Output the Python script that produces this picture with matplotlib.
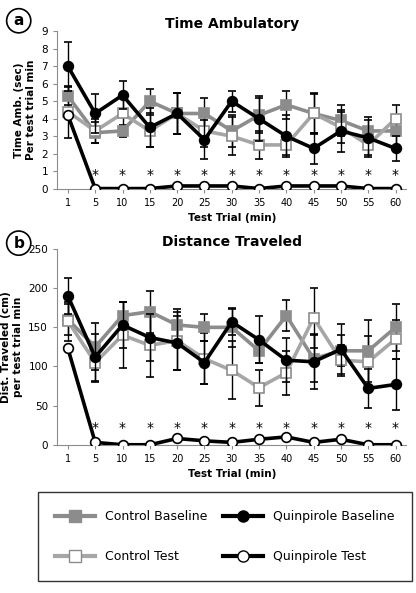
import matplotlib.pyplot as plt
import numpy as np
from matplotlib.lines import Line2D

trials = ['1', '5', '10', '15', '20', '25', '30', '35', '40', '45', '50', '55', '60']

# Time ambulatory
ta_cb = [5.3, 3.2, 3.3, 5.0, 4.3, 4.3, 3.3, 4.2, 4.8, 4.3, 3.9, 3.3, 3.3]
ta_cb_err = [0.5, 0.6, 0.35, 0.7, 1.2, 0.9, 0.9, 1.0, 0.8, 1.2, 0.9, 0.8, 0.9]
ta_ct = [4.4, 3.3, 4.3, 3.3, 4.3, 3.3, 3.0, 2.5, 2.5, 4.3, 3.5, 2.5, 4.0]
ta_ct_err = [1.5, 0.7, 0.9, 0.9, 1.2, 0.9, 1.1, 0.8, 0.6, 1.1, 0.9, 0.7, 0.8]
ta_qb = [7.0, 4.3, 5.35, 3.5, 4.3, 2.8, 5.0, 4.0, 3.0, 2.3, 3.3, 2.9, 2.3]
ta_qb_err = [1.4, 1.1, 0.8, 1.1, 1.2, 1.1, 0.6, 1.3, 1.2, 0.9, 1.2, 1.0, 0.7]
ta_qt = [4.2, 0, 0, 0, 0.15, 0.15, 0.15, 0, 0.15, 0.15, 0.15, 0, 0]

# Distance traveled
dt_cb = [160, 125, 165, 170, 153, 150, 150, 120, 165, 110, 120, 120, 150]
dt_cb_err = [20, 30, 18, 27, 20, 17, 25, 15, 20, 30, 20, 40, 30]
dt_ct = [158, 105, 140, 127, 133, 110, 95, 73, 92, 162, 108, 106, 135]
dt_ct_err = [25, 25, 42, 40, 37, 33, 37, 23, 28, 38, 20, 33, 25]
dt_qb = [190, 112, 153, 137, 130, 105, 157, 134, 108, 106, 122, 72, 77]
dt_qb_err = [23, 30, 30, 30, 35, 27, 17, 30, 28, 35, 32, 25, 33]
dt_qt = [123, 3, 0, 0, 8, 5, 3, 7, 10, 3, 7, 0, 0]

x = np.arange(len(trials))
gray = '#8c8c8c'

fig = plt.figure(figsize=(4.16, 5.93), dpi=100)
ax1 = fig.add_axes([0.137, 0.682, 0.84, 0.265])
ax2 = fig.add_axes([0.137, 0.25, 0.84, 0.33])


def draw(ax, cb, cbe, ct, cte, qb, qbe, qt, ylim, step, title, ylabel, star_y):
    kw = dict(capsize=3, elinewidth=1, ecolor='black', capthick=1, markersize=7, linewidth=2.6, markeredgewidth=1.2)
    ax.errorbar(x, cb, yerr=cbe, color=gray, marker='s', mfc=gray, mec=gray, zorder=2, **kw)
    ax.errorbar(x, qb, yerr=qbe, color='black', marker='o', mfc='black', mec='black', zorder=3, **kw)
    ax.errorbar(x, ct, yerr=cte, color='#a6a6a6', marker='s', mfc='white', mec=gray, zorder=2, **kw)
    ax.plot(x, qt, color='black', marker='o', mfc='white', mec='black', lw=2.6, ms=7, mew=1.2, zorder=4)
    for i in range(1, len(x)):
        ax.text(x[i], star_y, '*', ha='center', va='center', fontsize=10)
    ax.set_xlim(-0.4, len(x) - 0.6)
    ax.set_ylim(*ylim)
    ax.set_yticks(np.arange(ylim[0], ylim[1] + step / 2, step))
    ax.set_xticks(x)
    ax.set_xticklabels(trials, fontsize=7)
    ax.tick_params(axis='y', labelsize=7.5, length=3, color=gray)
    ax.tick_params(axis='x', length=3, color=gray)
    for s in ['top', 'right']:
        ax.spines[s].set_visible(False)
    for s in ['left', 'bottom']:
        ax.spines[s].set_color(gray)
    ax.set_title(title, fontsize=10, fontweight='bold', pad=-12)
    ax.set_xlabel('Test Trial (min)', fontsize=7.5, fontweight='bold')
    ax.set_ylabel(ylabel, fontsize=7.5, fontweight='bold')


draw(ax1, ta_cb, ta_cb_err, ta_ct, ta_ct_err, ta_qb, ta_qb_err, ta_qt, (0, 9), 1,
     'Time Ambulatory', 'Time Amb. (sec)\nPer test trial min', 0.75)
draw(ax2, dt_cb, dt_cb_err, dt_ct, dt_ct_err, dt_qb, dt_qb_err, dt_qt, (0, 250), 50,
     'Distance Traveled', 'Dist. Traveled (cm)\nper test trial min', 22)

for lab, yy in [('a', 0.965), ('b', 0.59)]:
    fig.text(0.045, yy, lab, fontsize=11, fontweight='bold', ha='center', va='center',
             bbox=dict(boxstyle='circle,pad=0.3', fc='white', ec='black', lw=1.2))

handles = [
    Line2D([], [], color=gray, marker='s', mfc=gray, mec=gray, lw=3, ms=8),
    Line2D([], [], color='#a6a6a6', marker='s', mfc='white', mec=gray, lw=3, ms=8),
    Line2D([], [], color='black', marker='o', mfc='black', lw=3, ms=8),
    Line2D([], [], color='black', marker='o', mfc='white', mec='black', lw=3, ms=8),
]
labels = ['Control Baseline', 'Control Test', 'Quinpirole Baseline', 'Quinpirole Test']
fig.legend(handles, labels, ncol=2, loc='center',
           bbox_to_anchor=(0.54, 0.095), fontsize=9, frameon=True, fancybox=False,
           edgecolor='black', handlelength=3.2, columnspacing=1.2, borderpad=1.4, labelspacing=2.2)

fig.savefig('out.png', dpi=100)
